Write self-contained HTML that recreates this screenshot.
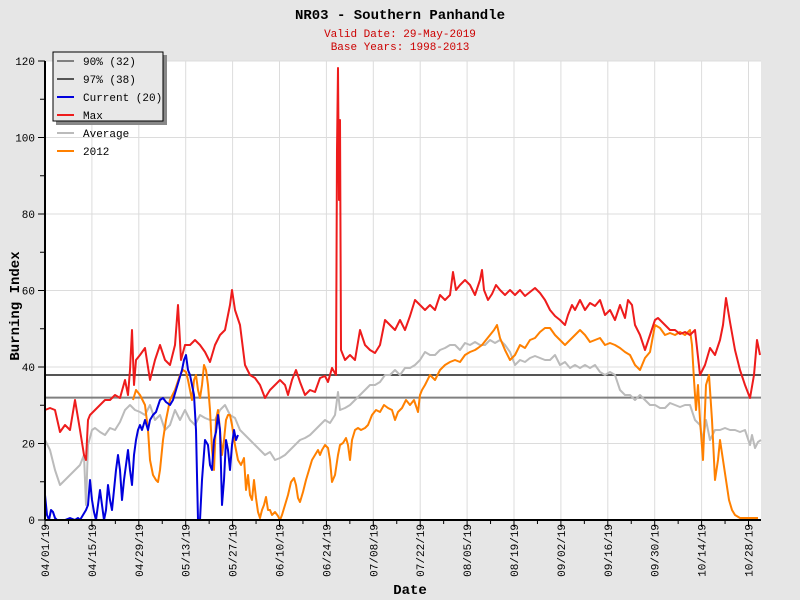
<!DOCTYPE html>
<html><head><meta charset="utf-8"><style>
html,body{margin:0;padding:0;background:#e6e6e6;}
svg{display:block;font-family:"Liberation Mono",monospace;}
</style></head><body>
<svg width="800" height="600" xmlns="http://www.w3.org/2000/svg">
<rect width="800" height="600" fill="#e6e6e6"/>
<text x="400" y="19" text-anchor="middle" font-size="14" font-weight="bold">NR03 - Southern Panhandle</text>
<text x="400" y="37" text-anchor="middle" font-size="11" fill="#cc0000">Valid Date: 29-May-2019</text>
<text x="400" y="50" text-anchor="middle" font-size="11" fill="#cc0000">Base Years: 1998-2013</text>
<rect x="45" y="61" width="716" height="459" fill="#fff"/>
<g id="grid" stroke="#dcdcdc" stroke-width="1"></g>
<g id="axes"></g>
<line x1="45" y1="397.6" x2="761" y2="397.6" stroke="#808080" stroke-width="2"/>
<line x1="45" y1="375" x2="761" y2="375" stroke="#555" stroke-width="2"/>
<g id="series" fill="none" stroke-width="2" stroke-linejoin="round"></g>
<line x1="45" y1="61" x2="45" y2="520" stroke="#000" stroke-width="2"/>
<line x1="45" y1="520" x2="761" y2="520" stroke="#000" stroke-width="2"/>
<text transform="translate(19,306) rotate(-90)" text-anchor="middle" font-size="14" font-weight="bold">Burning Index</text>
<text x="410" y="594" text-anchor="middle" font-size="14" font-weight="bold">Date</text>
<rect x="56" y="55" width="111" height="70" fill="#888"/>
<rect x="53" y="52" width="110" height="69" fill="#e8e8e8" stroke="#000" stroke-width="1"/>
<g font-size="11" stroke-width="2">
<line x1="57" y1="61" x2="74" y2="61" stroke="#808080"/><text x="83" y="65" stroke="none">90% (32)</text>
<line x1="57" y1="79" x2="74" y2="79" stroke="#555"/><text x="83" y="83" stroke="none">97% (38)</text>
<line x1="57" y1="97" x2="74" y2="97" stroke="#0000dd"/><text x="83" y="101" stroke="none">Current (20)</text>
<line x1="57" y1="115" x2="74" y2="115" stroke="#ee1c1c" transform="translate(0,0)"/>
</g>
<g font-size="11" stroke-width="2">
<line x1="57" y1="115" x2="74" y2="115" stroke="#ee1c1c"/><text x="83" y="119" stroke="none">Max</text>
</g>
</svg>
<script>
var NS="http://www.w3.org/2000/svg";var svg=document.querySelector("svg");
function el(t,a,p){var e=document.createElementNS(NS,t);for(var k in a)e.setAttribute(k,a[k]);(p||svg).appendChild(e);return e;}
var grid=document.getElementById("grid"),axes=document.getElementById("axes");
for(var v=20;v<=120;v+=20){var y=520-v*3.825;el("line",{x1:45,y1:y,x2:761,y2:y},grid);}
for(var v=0;v<=120;v+=10){var y=520-v*3.825;el("line",{x1:v%20?40:38,y1:y,x2:45,y2:y,stroke:"#000","stroke-width":1},axes);
 if(v%20==0){var t=el("text",{x:35,y:y+4,"text-anchor":"end","font-size":11},axes);t.textContent=v;}}
var labs=["04/01/19","04/15/19","04/29/19","05/13/19","05/27/19","06/10/19","06/24/19","07/08/19","07/22/19","08/05/19","08/19/19","09/02/19","09/16/19","09/30/19","10/14/19","10/28/19"];
for(var i=0;i<labs.length;i++){var x=45+i*46.9;if(i>0)el("line",{x1:x,y1:61,x2:x,y2:520},grid);
 el("line",{x1:x,y1:520,x2:x,y2:527,stroke:"#000","stroke-width":1},axes);
 var mx=x+23.45;if(mx<761)el("line",{x1:mx,y1:520,x2:mx,y2:524,stroke:"#000","stroke-width":1},axes);
 var t=el("text",{transform:"translate("+(x+4)+",524) rotate(-90)","text-anchor":"end","font-size":11},axes);t.textContent=labs[i];}
var S=document.getElementById("series");
function P(c,a){el("polyline",{points:a.join(" "),stroke:c},S);}
P("#bbbbbb",[45,440,50,450,55,470,60,485,65,480,70,475,75,470,80,465,84,455,86,505,88,445,92,430,95,428,100,432,105,435,110,428,115,430,120,422,125,410,130,405,135,410,140,412,145,415,150,405,155,420,160,415,165,430,170,425,175,410,180,420,185,410,190,420,195,425,200,415,205,418,210,420,215,420,220,410,225,405,230,415,235,418,240,430,245,435,250,440,255,445,260,450,265,455,270,452,275,460,280,458,285,455,290,450,295,445,300,440,305,438,310,435,315,430,320,425,325,420,330,423,335,415,338,392,340,410,345,408,350,405,355,400,360,395,365,390,370,385,375,385,380,382,385,375,390,375,395,370,400,375,405,368,410,368,415,365,420,360,425,352,430,355,435,355,440,350,445,348,450,345,455,345,460,350,465,343,470,345,475,342,480,345,485,345,490,340,495,343,500,340,505,345,510,352,515,365,520,360,525,362,530,358,535,356,540,358,545,360,550,360,555,355,560,365,565,362,570,368,575,365,580,368,585,365,590,368,595,365,600,372,605,375,610,372,615,375,620,390,625,395,630,395,635,400,640,395,645,400,650,405,655,405,660,408,665,408,670,403,675,405,680,407,685,405,690,405,695,420,700,425,703,440,706,420,710,440,715,430,720,430,725,428,730,430,735,430,740,432,745,430,750,445,752,435,755,448,758,442,761,440]);
P("#ff8000",[133,400,136,390,140,395,145,405,148,430,150,460,153,475,156,480,158,482,160,470,163,440,166,420,170,400,175,390,180,375,183,370,186,372,188,380,190,390,192,400,194,380,196,375,198,390,200,398,202,385,204,365,206,370,208,385,210,410,212,450,214,470,216,420,218,410,220,430,222,455,224,440,226,420,228,415,230,415,232,425,235,445,238,460,241,465,244,458,246,490,248,475,250,495,252,500,254,480,256,498,258,512,260,518,262,510,264,505,266,497,268,510,270,510,272,515,275,512,278,516,280,520,282,515,285,505,288,495,291,482,294,478,296,485,298,498,300,502,303,492,306,480,309,470,312,460,315,455,318,450,320,455,322,450,325,445,328,448,330,460,332,482,335,475,338,455,340,445,343,443,346,438,348,445,350,460,352,440,355,430,358,428,361,430,365,428,368,425,372,415,376,410,380,412,384,405,388,408,392,410,395,420,398,412,402,408,406,400,410,405,414,400,418,412,420,395,422,390,425,385,430,375,435,380,440,370,445,365,450,362,455,360,460,362,465,355,470,352,475,350,478,348,482,345,486,340,490,335,494,330,497,325,500,338,505,350,510,360,515,355,520,345,525,348,530,340,535,338,540,332,545,328,550,328,555,335,560,340,565,345,570,340,575,335,580,330,585,335,590,342,595,340,600,338,605,345,610,343,615,345,620,348,625,352,630,355,635,365,640,370,645,358,650,352,655,325,660,328,665,335,670,333,675,335,680,332,685,335,690,330,692,345,694,380,696,410,698,385,700,420,703,460,706,385,709,375,712,420,715,480,718,460,720,440,723,460,726,480,729,500,732,510,735,515,740,518,745,518,750,518,755,518,758,518]);
P("#ee1c1c",[45,410,50,408,55,410,60,432,65,425,70,430,75,400,80,430,84,455,86,460,88,420,90,415,95,410,100,405,105,400,110,400,115,395,120,398,125,380,128,395,130,370,132,330,134,385,136,360,140,355,145,348,150,380,155,360,160,345,165,360,170,365,175,345,178,305,181,360,185,345,190,345,195,340,200,345,205,352,210,362,215,345,220,335,225,330,230,305,232,290,235,310,240,325,245,365,250,375,255,378,260,385,265,398,270,390,275,385,280,380,285,385,288,395,292,380,296,370,300,382,305,395,310,390,315,392,320,378,325,376,328,382,332,368,336,375,337,150,338,68,339,200,340,120,341,350,345,360,350,355,355,360,360,330,365,345,370,350,375,353,380,345,385,320,390,325,395,330,400,320,405,330,410,316,415,300,420,305,425,310,430,305,435,310,440,295,445,300,450,295,453,272,456,290,460,285,465,280,470,285,475,295,480,280,482,270,484,290,488,300,492,294,496,285,500,290,505,295,510,290,515,295,520,290,525,296,530,292,535,288,540,293,545,300,550,310,555,316,560,320,565,325,568,315,572,305,575,310,580,300,585,310,590,303,595,306,600,300,605,315,610,310,615,320,620,305,625,318,628,300,632,305,635,325,640,335,645,350,650,335,655,320,658,318,665,325,670,330,675,330,680,334,685,332,690,335,695,330,700,375,705,365,710,348,715,355,720,340,723,325,726,298,730,322,735,350,740,370,745,385,750,398,754,375,757,340,760,355]);
P("#0000dd",[45,495,47,515,49,520,51,510,53,512,55,518,57,520,60,520,65,520,70,518,75,520,78,518,80,520,83,515,86,510,88,505,90,480,92,500,94,512,96,520,98,505,100,490,102,505,104,520,106,510,108,485,110,500,112,510,114,490,116,470,118,455,120,470,122,500,124,480,126,465,128,450,130,470,132,485,134,455,136,440,138,430,140,425,142,430,145,420,148,430,150,420,153,415,156,412,160,400,163,398,166,402,170,405,173,400,176,390,179,380,182,370,184,360,186,355,188,370,190,375,192,385,194,395,196,430,198,520,200,520,202,480,205,440,208,445,210,465,212,470,214,440,216,432,218,415,220,430,222,505,224,480,226,440,228,450,230,470,232,445,234,430,236,440,238,435]);
// legend remaining entries
var lg=[["#bbbbbb","Average",133],["#ff8000","2012",151]];
lg.forEach(function(e){el("line",{x1:57,y1:e[2],x2:74,y2:e[2],stroke:e[0],"stroke-width":2});var t=el("text",{x:83,y:e[2]+4,"font-size":11});t.textContent=e[1];});
</script>
</body></html>
